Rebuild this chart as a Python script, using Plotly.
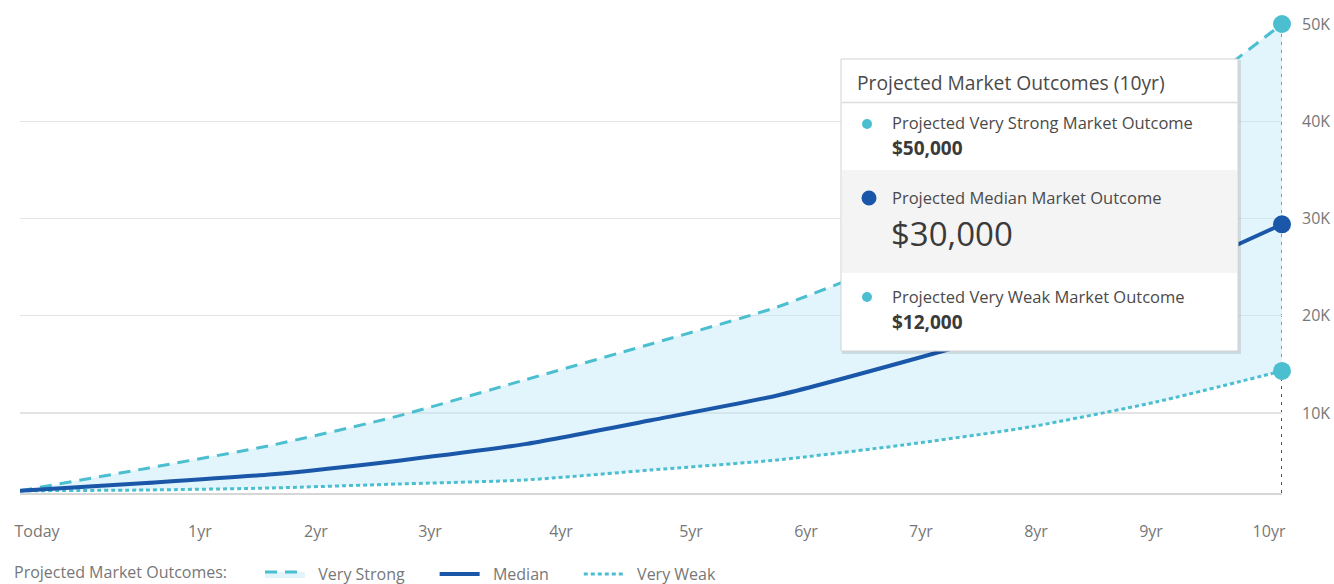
import plotly.graph_objects as go

# ---------------- data ----------------
YEARS = [0, 1, 2, 3, 4, 5, 6, 7, 8, 9, 10]
VERY_STRONG = [2000, 4300, 6700, 9700, 13400, 17100, 20900, 26000, 32300, 40200, 50000]
MEDIAN = [2000, 2800, 3700, 5100, 6800, 9250, 11800, 15240, 18970, 23600, 29400]
VERY_WEAK = [2000, 2080, 2290, 2700, 3110, 4140, 5170, 6710, 8560, 11130, 14320]

X_TICK_LABELS = ["Today", "1yr", "2yr", "3yr", "4yr", "5yr", "6yr", "7yr", "8yr", "9yr", "10yr"]
X_TICK_POS = [0.135, 1.426, 2.345, 3.249, 4.287, 5.317, 6.228, 7.139, 8.051, 8.962, 9.897]
Y_TICK_VALS = [10000, 20000, 30000, 40000, 50000]
Y_TICK_LABELS = ["10K", "20K", "30K", "40K", "50K"]

LEGEND_TITLE = "Projected Market Outcomes:"
TIP_TITLE = "Projected Market Outcomes (10yr)"
TIP_ROWS = [
    ("Projected Very Strong Market Outcome", "$50,000"),
    ("Projected Median Market Outcome", "$30,000"),
    ("Projected Very Weak Market Outcome", "$12,000"),
]

# ---------------- style ----------------
OFF = 0                       # body margin removed via post_script
W, H = 1334, 584
ML, MT = 20, 24
PW, PH = 1262, 469
MR = W - ML - PW
MB = H - MT - PH
TEAL = "#4bbfcf"
BLUE = "#1a57a8"
FONT = "Open Sans"
NB = "\u00a0"


def px(x):
    """screen x (as in reference picture) -> paper x"""
    return (x - OFF - ML) / PW


def py(y):
    """screen y (as in reference picture) -> paper y"""
    return (MT + PH - (y - OFF)) / PH


def lname(s, lead=2, trail=6):
    return NB * lead + s + NB * trail


fig = go.Figure()

fig.add_trace(go.Scatter(
    x=YEARS, y=VERY_WEAK, mode="lines", name=lname("Very Weak"),
    line=dict(color=TEAL, width=3, dash="4px,3px", shape="spline", smoothing=0.6),
    legendrank=3, hoverinfo="skip"))
fig.add_trace(go.Scatter(
    x=YEARS, y=VERY_STRONG, mode="lines", name=lname("Very Strong"),
    line=dict(color=TEAL, width=3, dash="12px,8px", shape="spline", smoothing=0.6),
    fill="tonexty", fillcolor="rgba(190,230,248,0.45)",
    legendrank=1, hoverinfo="skip"))
fig.add_trace(go.Scatter(
    x=YEARS, y=MEDIAN, mode="lines", name=lname("Median", 2, 6),
    line=dict(color=BLUE, width=4, shape="spline", smoothing=0.6),
    legendrank=2, hoverinfo="skip"))

# end markers
fig.add_trace(go.Scatter(
    x=[YEARS[-1]] * 3, y=[VERY_STRONG[-1], MEDIAN[-1], VERY_WEAK[-1]],
    mode="markers", showlegend=False, hoverinfo="skip", cliponaxis=False,
    marker=dict(size=18, color=[TEAL, BLUE, TEAL], line=dict(width=0))))

shapes = []
# vertical dotted line at final year
shapes.append(dict(type="line", xref="x", yref="paper", x0=YEARS[-1], x1=YEARS[-1],
                   y0=0, y1=1, line=dict(color="#1f5fb3", width=2, dash="3px,5px"),
                   layer="below"))

# tooltip box
bx0, bx1, by0, by1 = 841, 1238, 59, 351
shapes.append(dict(type="rect", xref="paper", yref="paper",
                   x0=px(bx0 + 1), x1=px(bx1 + 3), y0=py(by1 + 3), y1=py(by0 + 1),
                   fillcolor="rgba(0,0,0,0.10)", line=dict(width=0), layer="above"))
shapes.append(dict(type="rect", xref="paper", yref="paper",
                   x0=px(bx0), x1=px(bx1), y0=py(by1), y1=py(by0),
                   fillcolor="white", line=dict(color="#d2d2d2", width=1), layer="above"))
shapes.append(dict(type="rect", xref="paper", yref="paper",
                   x0=px(bx0 + 1), x1=px(bx1 - 1), y0=py(273), y1=py(170),
                   fillcolor="#f4f4f4", line=dict(width=0), layer="above"))
shapes.append(dict(type="line", xref="paper", yref="paper",
                   x0=px(bx0 + 1), x1=px(bx1 - 1), y0=py(102.5), y1=py(102.5),
                   line=dict(color="#dcdcdc", width=1.5), layer="above"))


def dot(cx, cy, r, color):
    shapes.append(dict(type="circle", xref="paper", yref="paper",
                       x0=px(cx - r), x1=px(cx + r), y0=py(cy + r), y1=py(cy - r),
                       fillcolor=color, line=dict(width=0), layer="above"))


dot(867, 124, 5, TEAL)
dot(869, 198, 7.5, BLUE)
dot(867, 297, 5, TEAL)

annotations = []


def txt(x, y, s, size, color="#444", weight=None):
    t = f"<b>{s}</b>" if weight == "bold" else s
    annotations.append(dict(xref="paper", yref="paper", x=px(x), y=py(y), text=t,
                            showarrow=False, xanchor="left", yanchor="middle",
                            font=dict(family=FONT, size=size, color=color)))


txt(855, 82, TIP_TITLE, 19.3, "#4a4a4a")
txt(890, 122, TIP_ROWS[0][0], 16.5, "#4a4a4a")
txt(890, 148, TIP_ROWS[0][1], 19, "#3a3a3a", "bold")
txt(890, 197, TIP_ROWS[1][0], 16.5, "#4a4a4a")
txt(889, 233, TIP_ROWS[1][1], 33, "#3a3a3a")
txt(890, 296, TIP_ROWS[2][0], 16.5, "#4a4a4a")
txt(890, 322, TIP_ROWS[2][1], 19, "#3a3a3a", "bold")

fig.update_layout(
    width=W, height=H,
    margin=dict(l=ML, r=MR, t=MT, b=MB, autoexpand=False),
    paper_bgcolor="white", plot_bgcolor="white",
    font=dict(family=FONT, size=16, color="#777"),
    shapes=shapes, annotations=annotations,
    showlegend=True,
    legend=dict(orientation="h", x=px(12), xanchor="left", y=py(574), yanchor="middle",
                traceorder="normal",
                title=dict(text=LEGEND_TITLE + NB * 6, side="left",
                           font=dict(family=FONT, size=16, color="#777")),
                font=dict(family=FONT, size=16, color="#777"),
                itemwidth=40, tracegroupgap=0),
    hovermode=False,
)

fig.update_xaxes(
    range=[0, 10], tickvals=X_TICK_POS, ticktext=X_TICK_LABELS,
    showgrid=False, zeroline=False, showline=True, linecolor="#d6d6d6", linewidth=2,
    ticks="", ticklabelstandoff=23, automargin=False,
    tickfont=dict(family=FONT, size=16, color="#777"))

fig.update_yaxes(
    range=[1772, 50000], side="right", tickvals=Y_TICK_VALS, ticktext=Y_TICK_LABELS,
    showgrid=True, gridcolor="#e4e4e4", gridwidth=1.5, zeroline=False, showline=False,
    ticks="", ticklabelstandoff=19, automargin=False,
    tickfont=dict(family=FONT, size=16, color="#777"))

fig.write_html("out.html",
               config={"displayModeBar": False, "staticPlot": True},
               post_script="document.body.style.margin='0';"
                           "document.body.style.overflow='hidden';")
